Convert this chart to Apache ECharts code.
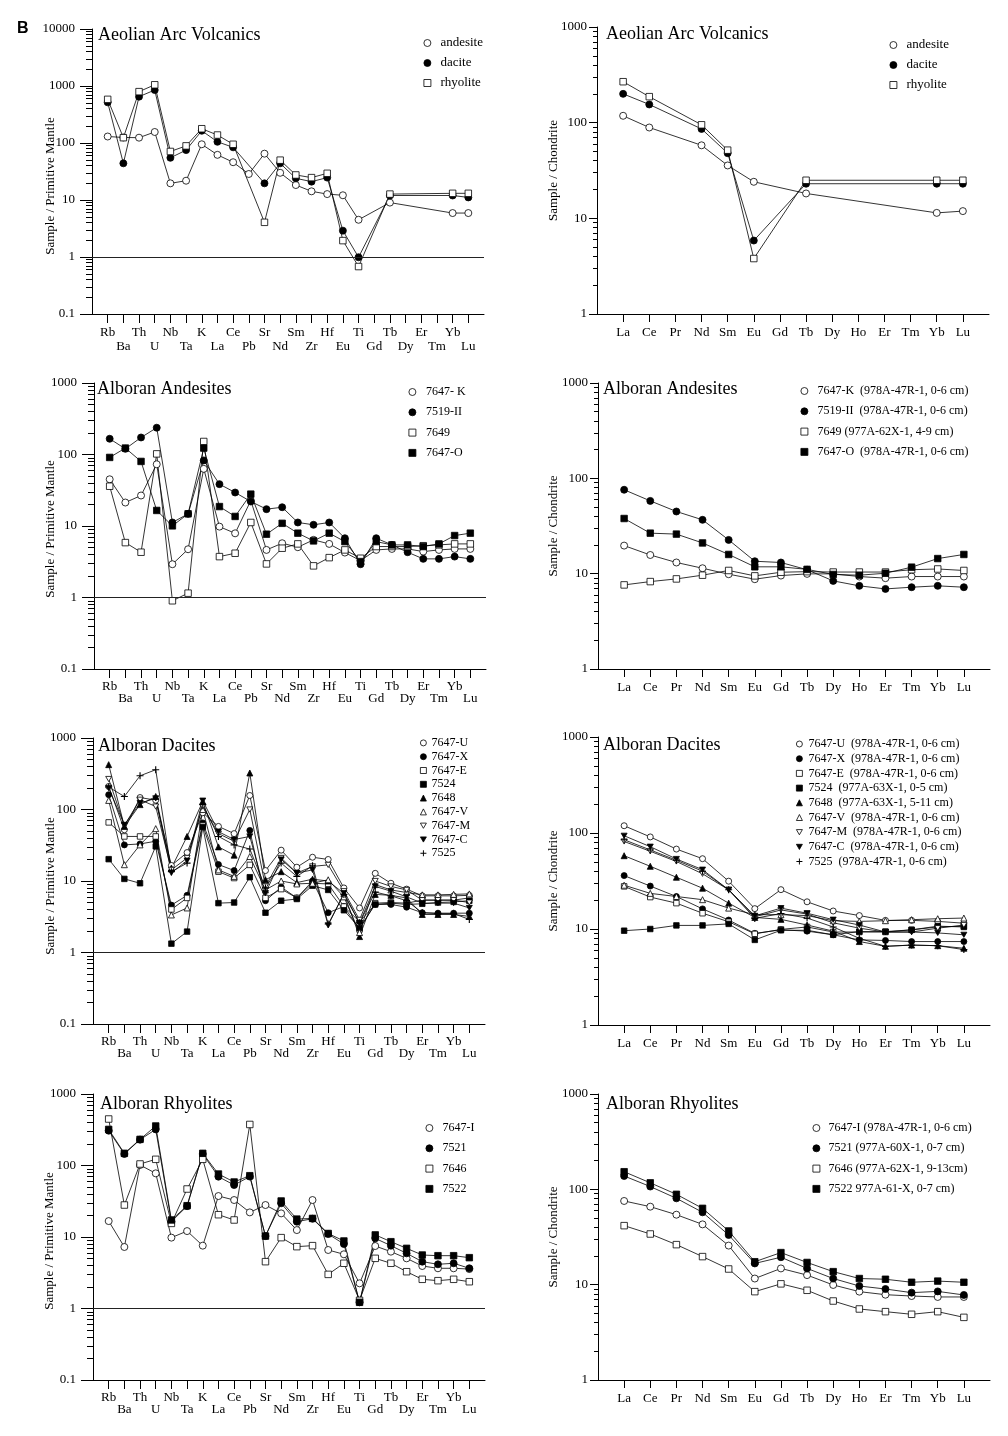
<!DOCTYPE html>
<html><head><meta charset="utf-8">
<script src="https://cdn.jsdelivr.net/npm/echarts@6/dist/echarts.min.js"></script>
<style>html,body{margin:0;padding:0;background:#fff}#c{width:1008px;height:1436px}</style>
</head><body><div id="c"></div>
<script>
// ---------- categories / ticks ----------
const PM_ELEMENTS = ['Rb','Ba','Th','U','Nb','Ta','K','La','Ce','Pb','Sr','Nd','Sm','Zr','Hf','Eu','Ti','Gd','Tb','Dy','Er','Tm','Yb','Lu'];
const REE_ELEMENTS = ['La','Ce','Pr','Nd','Sm','Eu','Gd','Tb','Dy','Ho','Er','Tm','Yb','Lu'];
const PM_TICKS_5 = [0.1, 1, 10, 100, 1000, 10000];
const PM_TICKS_4 = [0.1, 1, 10, 100, 1000];
const CI_TICKS = [1, 10, 100, 1000];

// ---------- Aeolian Arc Volcanics ----------
const aeolianPM_andesite = [130,125,124,156,19.6,21.8,95,62,46,28.6,65,30,18.3,14.2,12.7,12.1,4.5,null,9.0,null,null,null,5.9,5.9];
const aeolianPM_dacite   = [517,44,650,850,55,75,164,105,84,null,19.6,44,24,21,24.7,2.9,0.99,null,12,null,null,null,12,11.1];
const aeolianPM_rhyolite = [583,124,796,1050,71,89,178,138,95,null,4.06,50,27.5,24.7,29.4,1.94,0.68,null,12.7,null,null,null,13.1,13.1];
const aeolianCI_andesite = [118,89,null,58,35.7,24.1,null,18.2,null,null,null,null,11.4,11.9];
const aeolianCI_dacite   = [200,155,null,86,48,5.86,null,23,null,null,null,null,23,23];
const aeolianCI_rhyolite = [268,187,null,95,51.6,3.8,null,25,null,null,null,null,25,25];

// ---------- Alboran Andesites ----------
const andPM_7647K = [45,21.3,26.7,73,2.92,4.73,63,9.8,7.9,22.7,4.63,5.74,5.05,6.4,5.62,4.25,3.28,4.63,4.78,4.78,4.39,4.63,4.78,4.78];
const andPM_7519  = [166,120,173,237,11.2,14.8,82.6,38.5,29.4,22,17.2,18.3,11.2,10.4,11.2,6.75,2.92,6.75,5.44,4.3,3.47,3.47,3.73,3.47];
const andPM_7649  = [36,5.86,4.3,102,0.9,1.15,152,3.73,4.16,11.2,2.95,4.89,5.62,2.77,3.61,4.63,3.54,5.16,5.16,5.16,5.3,5.44,5.62,5.62];
const andPM_7647O = [91,123,80,16.5,10.05,14.8,123,18.7,13.6,27.9,7.68,10.9,7.94,6.19,7.94,6.05,3.18,6.05,5.44,5.44,5.16,5.62,7.35,7.94];
const andCI_7647K = [19.7,15.7,13.1,11.4,9.87,8.75,9.55,9.95,9.95,9.33,8.97,9.33,9.33,9.33];
const andCI_7519  = [75.9,58,44.9,36.7,22.6,13.5,13.1,11,8.4,7.45,6.92,7.21,7.45,7.21];
const andCI_7649  = [7.62,8.26,8.81,9.64,10.8,9.48,10.35,10.5,10.4,10.4,10.4,11,11.2,10.8];
const andCI_7647O = [37.9,26.6,26,21,15.9,11.8,11.8,11.1,9.8,9.64,10.1,11.7,14.4,15.9];

// ---------- Alboran Dacites ----------
const dacPM_7647U = [210,52,147,135,16.5,25,90,58,46,157,14,27,15.6,21.5,20,8,4.2,12.8,9.3,7.7,6.2,6.2,6.2,6.3];
const dacPM_7647X = [161,32,33,36,4.6,6.3,65,17,14,51,5.3,8.2,5.8,10,3.6,4.4,2.7,4.7,4.7,4.3,3.6,3.55,3.55,3.55];
const dacPM_7647E = [66,42,42,42,4.0,5.8,60,13.5,11,16.8,5.8,7.7,5.8,9.3,9.1,4.4,2.1,4.9,5.0,4.9,5.4,5.4,5.4,5.8];
const dacPM_7524  = [20.2,10.7,9.3,30.5,1.33,1.96,57,4.9,5.0,11.3,3.6,5.3,5.6,8.6,7.5,3.9,2.2,4.7,4.9,4.7,4.8,5.0,5.1,5.3];
const dacPM_7648  = [424,58,117,152,15.2,42,130,30,23,324,10.4,13.5,9.5,10.6,10,6.7,1.67,6.5,6.3,5.8,3.4,3.4,3.4,3.2];
const dacPM_7647V = [134,16.9,32,54,3.35,4.2,100,14.3,11.6,22,7.5,10,9.1,9.3,10.4,6,1.9,8.9,7.5,6.9,6.4,6.4,6.5,6.6];
const dacPM_7647M = [267,60,137,110,14.3,21,110,46,36,100,8.4,21,12.9,16,16.8,7.2,2.86,10,8.4,7.5,5.4,5.4,5.4,5.0];
const dacPM_7647C = [200,61,123,143,13,19.3,133,49,38,42,6.75,20,12.9,14.3,2.4,6.75,2.6,8.4,7.2,6,4.9,4.9,4.9,4.2];
const dacPM_7525  = [206,152,296,360,13.5,17.8,117,42,32,28,8,17.8,11.6,16.3,2.5,6.5,2.6,7,6.2,5.3,3.6,3.5,3.5,2.9];
const dacCI_7647U = [119,91,68,54,31.5,16.3,25.7,19.2,15.4,13.8,12.3,12.3,12.0,11.5];
const dacCI_7647X = [36,28,21.8,16.2,12.4,9.0,9.8,9.5,8.7,7.7,7.6,7.4,7.4,7.4];
const dacCI_7647E = [27.8,21.5,18.6,14.6,11.9,8.9,9.9,10.5,9.3,9.3,9.3,9.8,10.5,10.7];
const dacCI_7524  = [9.6,10,10.9,10.9,11.3,7.7,9.7,9.7,8.7,9.4,9.4,9.8,10.7,10.5];
const dacCI_7648  = [58,45,34.6,26.6,18.6,13.2,12.6,11,9.5,7.4,6.6,6.8,6.7,6.3];
const dacCI_7647V = [28.6,23.5,21.8,20.2,16.5,14.1,14.1,13.8,12.2,12,12.2,12.5,12.8,13];
const dacCI_7647M = [81.6,64.5,50.5,37.6,25.6,13.4,15.8,14.3,11.6,10.2,9.3,9.3,10.2,11];
const dacCI_7647C = [93.6,72,53.6,41.5,25.6,13.7,16.5,14.6,12.5,11,9.3,9.3,9.1,8.7];
const dacCI_7525  = [85,66.6,52,40,25.6,12.9,14.5,13,10.5,8,6.6,6.8,6.7,6.1];

// ---------- Alboran Rhyolites ----------
const rhyPM_7647I = [16.7,7.25,101.6,77.7,9.8,12.1,7.57,37.4,32.9,22.1,28,21.4,12.5,32.9,6.58,5.73,2.25,7.48,6.24,5.03,3.93,3.65,3.65,3.56];
const rhyPM_7521  = [307,145,230,320,16.4,27,145,69.8,53.3,70,10.3,29.6,16.4,18,11,7.98,1.22,9.57,7.57,5.91,4.52,4.15,4.29,3.65];
const rhyPM_7646  = [447,28,105,122,15.5,46.9,122,20.5,17.3,375,4.52,9.8,7.33,7.57,3.0,4.29,1.3,5.03,4.29,3.27,2.56,2.45,2.56,2.37];
const rhyPM_7522  = [320,148,232,357,17.3,27.4,148,76,58.8,72,10.3,31.9,17.8,18.2,11.2,8.8,1.22,10.7,8.6,6.94,5.6,5.48,5.48,5.14];
const rhyCI_7647I = [75.5,65.8,54.2,42.9,25.7,11.6,14.8,12.6,9.93,8.45,7.85,7.6,7.43,7.43];
const rhyCI_7521  = [138,107,80.5,57.4,33.2,16.7,19.4,14.8,11.6,9.68,9.0,8.25,8.5,7.8];
const rhyCI_7646  = [41.6,34,26.3,19.7,14.6,8.45,10.2,8.73,6.74,5.56,5.21,4.89,5.21,4.54];
const rhyCI_7522  = [153,117,88.7,63.2,36.6,17.4,21.7,17.1,13.7,11.6,11.4,10.6,10.9,10.6];

// ---------- styling ----------
const FONT = 'Liberation Serif';
const INV = 'path://M0,0L10,0L5,8.66Z';
const PLUS = 'path://M4.2,0H5.8V4.2H10V5.8H5.8V10H4.2V5.8H0V4.2H4.2Z';
const SYM = {
  oc:{symbol:'circle', fill:'#fff'}, fc:{symbol:'circle', fill:'#000'},
  os:{symbol:'rect', fill:'#fff'},   fs:{symbol:'rect', fill:'#000'},
  ft:{symbol:'triangle', fill:'#000'}, ot:{symbol:'triangle', fill:'#fff'},
  oi:{symbol:INV, fill:'#fff'}, fi:{symbol:INV, fill:'#000'},
  pl:{symbol:PLUS, fill:'#000'}
};

const panels = [
  {kind:'pm', grid:{left:92,top:29,width:392,height:285}, min:0.1, max:10000, ticks:PM_TICKS_5,
   title:'Aeolian Arc Volcanics', tpos:[98,26], lg:{left:423.5,top:36,gap:6,lh:14,fs:13,pad:4.5}, lblLH:14, nameGap:35, namePad:29, size:7,
   series:[{name:'andesite',data:aeolianPM_andesite,sym:'oc'},{name:'dacite',data:aeolianPM_dacite,sym:'fc'},{name:'rhyolite',data:aeolianPM_rhyolite,sym:'os'}]},
  {kind:'ree', grid:{left:597,top:27,width:392,height:287}, min:1, max:1000, ticks:CI_TICKS,
   title:'Aeolian Arc Volcanics', tpos:[606,25], lg:{left:889.5,top:38,gap:6,lh:14,fs:13,pad:4.5}, nameGap:37, namePad:0, size:7,
   series:[{name:'andesite',data:aeolianCI_andesite,sym:'oc'},{name:'dacite',data:aeolianCI_dacite,sym:'fc'},{name:'rhyolite',data:aeolianCI_rhyolite,sym:'os'}]},
  {kind:'pm', grid:{left:94,top:383,width:392,height:286}, min:0.1, max:1000, ticks:PM_TICKS_4,
   title:'Alboran Andesites', tpos:[97,380], lg:{left:408.5,top:385,gap:6.3,lh:14,fs:12,pad:5}, lblLH:12, nameGap:37, namePad:6, size:7,
   series:[{name:'7647- K',data:andPM_7647K,sym:'oc'},{name:'7519-II',data:andPM_7519,sym:'fc'},{name:'7649',data:andPM_7649,sym:'os'},{name:'7647-O',data:andPM_7647O,sym:'fs'}]},
  {kind:'ree', grid:{left:598,top:383,width:392,height:286}, min:1, max:1000, ticks:CI_TICKS,
   title:'Alboran Andesites', tpos:[603,380], lg:{left:800.5,top:384,gap:6.3,lh:14,fs:12,pad:4.5}, nameGap:38, namePad:0, size:7,
   series:[{name:'7647-K  (978A-47R-1, 0-6 cm)',data:andCI_7647K,sym:'oc'},{name:'7519-II  (978A-47R-1, 0-6 cm)',data:andCI_7519,sym:'fc'},{name:'7649 (977A-62X-1, 4-9 cm)',data:andCI_7649,sym:'os'},{name:'7647-O  (978A-47R-1, 0-6 cm)',data:andCI_7647O,sym:'fs'}]},
  {kind:'pm', grid:{left:93,top:738,width:392,height:286}, min:0.1, max:1000, ticks:PM_TICKS_4,
   title:'Alboran Dacites', tpos:[98,737], lg:{left:420,top:736,gap:0,lh:13.8,fs:12,pad:0}, lblLH:12, nameGap:36, namePad:10, size:6,
   series:[{name:'7647-U',data:dacPM_7647U,sym:'oc'},{name:'7647-X',data:dacPM_7647X,sym:'fc'},{name:'7647-E',data:dacPM_7647E,sym:'os'},{name:'7524',data:dacPM_7524,sym:'fs'},{name:'7648',data:dacPM_7648,sym:'ft'},{name:'7647-V',data:dacPM_7647V,sym:'ot'},{name:'7647-M',data:dacPM_7647M,sym:'oi'},{name:'7647-C',data:dacPM_7647C,sym:'fi'},{name:'7525',data:dacPM_7525,sym:'pl'}]},
  {kind:'ree', grid:{left:598,top:737,width:392,height:288}, min:1, max:1000, ticks:CI_TICKS,
   title:'Alboran Dacites', tpos:[603,736], lg:{left:796,top:737,gap:0.7,lh:14,fs:12,pad:1}, nameGap:38, namePad:0, size:6,
   series:[{name:'7647-U  (978A-47R-1, 0-6 cm)',data:dacCI_7647U,sym:'oc'},{name:'7647-X  (978A-47R-1, 0-6 cm)',data:dacCI_7647X,sym:'fc'},{name:'7647-E  (978A-47R-1, 0-6 cm)',data:dacCI_7647E,sym:'os'},{name:'7524  (977A-63X-1, 0-5 cm)',data:dacCI_7524,sym:'fs'},{name:'7648  (977A-63X-1, 5-11 cm)',data:dacCI_7648,sym:'ft'},{name:'7647-V  (978A-47R-1, 0-6 cm)',data:dacCI_7647V,sym:'ot'},{name:'7647-M  (978A-47R-1, 0-6 cm)',data:dacCI_7647M,sym:'oi'},{name:'7647-C  (978A-47R-1, 0-6 cm)',data:dacCI_7647C,sym:'fi'},{name:'7525  (978A-47R-1, 0-6 cm)',data:dacCI_7525,sym:'pl'}]},
  {kind:'pm', grid:{left:93,top:1094,width:392,height:286}, min:0.1, max:1000, ticks:PM_TICKS_4,
   title:'Alboran Rhyolites', tpos:[100,1095], lg:{left:425.5,top:1121,gap:6.3,lh:14,fs:12,pad:4.5}, lblLH:12, nameGap:37, namePad:8, size:7,
   series:[{name:'7647-I',data:rhyPM_7647I,sym:'oc'},{name:'7521',data:rhyPM_7521,sym:'fc'},{name:'7646',data:rhyPM_7646,sym:'os'},{name:'7522',data:rhyPM_7522,sym:'fs'}]},
  {kind:'ree', grid:{left:598,top:1094,width:392,height:286}, min:1, max:1000, ticks:CI_TICKS,
   title:'Alboran Rhyolites', tpos:[606,1095], lg:{left:812.5,top:1121,gap:6.3,lh:14,fs:12,pad:3.5}, nameGap:38, namePad:0, size:7,
   series:[{name:'7647-I (978A-47R-1, 0-6 cm)',data:rhyCI_7647I,sym:'oc'},{name:'7521 (977A-60X-1, 0-7 cm)',data:rhyCI_7521,sym:'fc'},{name:'7646 (977A-62X-1, 9-13cm)',data:rhyCI_7646,sym:'os'},{name:'7522 977A-61-X, 0-7 cm)',data:rhyCI_7522,sym:'fs'}]}
];

function minorValues(min, max) {
  const out = [];
  for (let d = min; d < max; d *= 10) {
    for (let k = 2; k <= 9; k++) out.push(+(d * k).toPrecision(6));
  }
  return out;
}

const option = {
  animation:false,
  textStyle:{fontFamily:FONT},
  title:[{text:'B', left:17, top:21, padding:0, textStyle:{fontFamily:'Liberation Sans', fontWeight:'bold', fontSize:16, color:'#000'}}],
  grid:[], xAxis:[], yAxis:[], legend:[], series:[]
};
const axisLS = {color:'#000', width:1};

panels.forEach((p, pi) => {
  const isPM = p.kind === 'pm';
  const cats = ['', ...(isPM ? PM_ELEMENTS : REE_ELEMENTS), ''];
  option.grid.push(Object.assign({containLabel:false}, p.grid));
  option.title.push({text:p.title, left:p.tpos[0], top:p.tpos[1], padding:0,
    textStyle:{fontFamily:FONT, fontSize:18, fontWeight:'normal', color:'#000'}});
  option.xAxis.push({
    gridIndex:pi, type:'category', boundaryGap:false, data:cats,
    axisLine:{show:true, onZero:false, lineStyle:axisLS},
    axisTick:{show:true, length:isPM ? 9 : 8, interval:(i, v) => v !== '', lineStyle:axisLS},
    axisLabel:{interval:0, hideOverlap:false, fontFamily:FONT, fontSize:13, color:'#000', margin:12,
      lineHeight:isPM ? p.lblLH : 13,
      formatter: isPM ? ((v, i) => (v && i % 2 === 0) ? '\n' + v : v) : (v => v)},
    splitLine:{show:false}
  });
  const nameStyle = {fontFamily:FONT, fontSize:13, color:'#000'};
  if (p.namePad) nameStyle.padding = [0, p.namePad, 0, 0];
  option.yAxis.push({
    gridIndex:pi, type:'log', logBase:10, min:p.min, max:p.max, position:'left',
    axisLine:{show:true, lineStyle:axisLS},
    axisTick:{show:true, length:isPM ? 12 : 8, customValues:p.ticks, lineStyle:axisLS},
    axisLabel:{fontFamily:FONT, fontSize:13, color:'#000', margin:isPM ? 17 : 10, customValues:p.ticks, formatter:v => String(v)},
    splitLine:{show:false}, minorTick:{show:false},
    name:isPM ? 'Sample / Primitive Mantle' : 'Sample / Chondrite', nameLocation:'middle', nameGap:p.nameGap,
    nameMoveOverlap:false,
    nameTextStyle:nameStyle
  });
  option.yAxis.push({
    gridIndex:pi, type:'log', logBase:10, min:p.min, max:p.max, position:'left', offset:0,
    axisLine:{show:false}, axisLabel:{show:false}, splitLine:{show:false},
    axisTick:{show:true, length:isPM ? 6 : 4, customValues:minorValues(p.min, p.max), lineStyle:axisLS}
  });
  option.legend.push({
    left:p.lg.left, top:p.lg.top, orient:'vertical', padding:0, itemWidth:p.size, itemHeight:p.size,
    itemGap:p.lg.gap, selectedMode:false,
    textStyle:{fontFamily:FONT, fontSize:p.lg.fs, color:'#000', lineHeight:p.lg.lh, padding:[0,0,0,p.lg.pad]},
    data:p.series.map(s => ({name:s.name, icon:SYM[s.sym].symbol,
      itemStyle:{color:SYM[s.sym].fill, borderColor:'#000', borderWidth:s.sym === 'pl' ? 0 : 0.8}}))
  });
  p.series.forEach((s, si) => {
    const st = SYM[s.sym];
    const size = st.symbol === 'rect' ? p.size - 0.5 : (s.sym === 'pl' ? p.size + 1 : p.size);
    const ser = {
      type:'line', name:s.name, xAxisIndex:pi, yAxisIndex:2 * pi,
      data:[null, ...s.data, null],
      symbol:st.symbol, symbolSize:size, symbolKeepAspect:true,
      showSymbol:true, showAllSymbol:true, connectNulls:true,
      lineStyle:{color:'#000', width:0.8},
      itemStyle:{color:st.fill, borderColor:'#000', borderWidth:s.sym === 'pl' ? 0 : 0.8},
      emphasis:{disabled:true}, silent:true
    };
    if (si === 0 && isPM) {
      ser.markLine = {silent:true, symbol:['none','none'], label:{show:false},
        lineStyle:{type:'solid', color:'#222', width:1}, data:[{yAxis:1}], animation:false};
    }
    option.series.push(ser);
  });
});

const chart = echarts.init(document.getElementById('c'), null, {renderer:'canvas'});
chart.setOption(option);
</script>
</body></html>
